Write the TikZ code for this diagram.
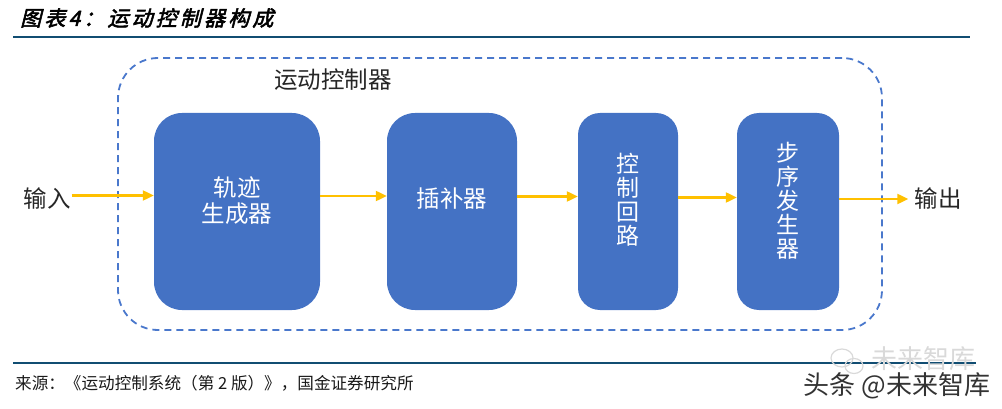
\documentclass[tikz,border=0pt]{standalone}
\usepackage{fontspec}
\setmainfont{Noto Sans CJK SC}
\newfontfamily\titlefont[FakeSlant=0.25,FakeBold=2.5,LetterSpace=15]{Noto Sans CJK SC}
\newfontfamily\footfont{Noto Sans CJK SC}
\usetikzlibrary{arrows.meta}
\definecolor{boxblue}{HTML}{4472C4}
\definecolor{dashblue}{HTML}{4A78CC}
\definecolor{arrowyellow}{HTML}{FFC000}
\definecolor{ruleblue}{HTML}{114D72}
\tikzset{
  blockbox/.style={fill=boxblue, draw=none, rounded corners=28pt, inner sep=0pt},
  blocktext/.style={text=white, font=\fontsize{23.5}{26}\selectfont, align=center},
  vtext/.style={text=white, font=\fontsize{23}{24}\selectfont, align=center},
  arr/.style={draw=arrowyellow, line width=2.2pt, -{Triangle[length=11pt,width=10pt]}},
  plaintext/.style={font=\fontsize{23.5}{26}\selectfont, text=black!85}
}
\begin{document}
\begin{tikzpicture}[x=1pt,y=-1pt]
\useasboundingbox (0,0) rectangle (1002,409);
% title
\node[anchor=west, inner sep=0pt, font=\titlefont\fontsize{21}{24}\selectfont] (title) at (20,18) {图表4：运动控制器构成};
\draw[ruleblue, line width=2.6pt] (13,37) -- (970,37);
% dashed frame
\node[draw=dashblue, line width=1.8pt, dash pattern=on 7pt off 5pt, rounded corners=40pt,
      minimum width=764pt, minimum height=272pt, inner sep=0pt] (ctrl) at (500,194) {};
\node[plaintext] (ctrllabel) at (333,80) {运动控制器};
% blocks
\node[blockbox, minimum width=166pt, minimum height=197pt,
      label={[blocktext, yshift=10.5pt]center:轨迹\\生成器}] (b1) at (237,211.5) {};
\node[blockbox, minimum width=130pt, minimum height=197pt,
      label={[blocktext, yshift=12.5pt]center:插补器}] (b2) at (452,211.5) {};
\node[blockbox, minimum width=100pt, minimum height=197pt, rounded corners=22pt,
      label={[vtext, yshift=12pt]center:控\\制\\回\\路}] (b3) at (628,211.5) {};
\node[blockbox, minimum width=102pt, minimum height=197pt, rounded corners=22pt,
      label={[vtext, yshift=11pt]center:步\\序\\发\\生\\器}] (b4) at (788,211.5) {};
% input / output
\node[plaintext, inner sep=1pt] (in) at (47,199) {输入};
\node[plaintext, inner sep=6pt] (out) at (938,199) {输出};
% connectors
\coordinate (a1) at ([yshift=16pt]b1.west);
\draw[arr] (in.east |- a1) -- (a1);
\draw[arr] ([yshift=15.5pt]b1.east) -- ([yshift=15.5pt]b2.west);
\draw[arr] ([yshift=15pt]b2.east) -- ([yshift=15pt]b3.west);
\draw[arr] ([yshift=14pt]b3.east) -- ([yshift=14pt]b4.west);
\coordinate (o1) at ([yshift=12.5pt]b4.east);
\draw[arr] (o1) -- (out.west |- o1);
% footer
\draw[ruleblue, line width=2.6pt] (13,363) -- (976,363);
\node[anchor=west, inner sep=0pt, font=\footfont\fontsize{16.6}{19}\selectfont, text=black!90] (src) at (15,383) {来源：《运动控制系统（第 2 版）》，国金证券研究所};
% watermark
\draw[black!15, line width=1.2pt] (842,358) ellipse (11pt and 9pt);
\draw[black!15, line width=1.2pt] (854,366) ellipse (9pt and 7.5pt);
\node[font=\fontsize{26}{28}\selectfont, text=black!15] (wm1) at (923,359) {未来智库};
\node[font=\fontsize{26}{28}\selectfont, text=black!80] (wm2) at (897,386) {头条 @未来智库};
\end{tikzpicture}
\end{document}
